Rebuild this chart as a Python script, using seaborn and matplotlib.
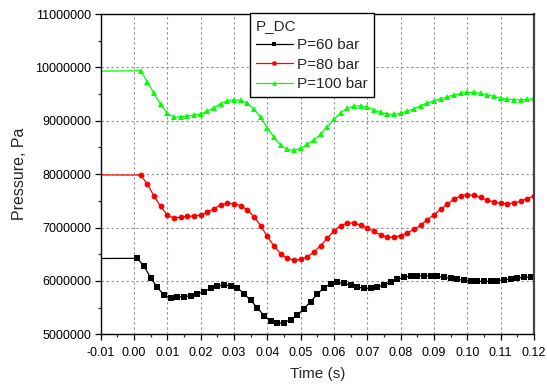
import matplotlib
matplotlib.use("Agg")
import matplotlib.pyplot as plt
from matplotlib.ticker import MultipleLocator, FixedLocator, FixedFormatter
import seaborn as sns
import pandas as pd

# ---------------- data ----------------
t_start = -0.01

t_60 = [0.001, 0.003, 0.005, 0.007, 0.009, 0.011, 0.013, 0.015, 0.017, 0.019,
        0.021, 0.023, 0.025, 0.027, 0.029, 0.031, 0.033, 0.035, 0.037, 0.039,
        0.041, 0.043, 0.045, 0.047, 0.049, 0.051, 0.053, 0.055, 0.057, 0.059,
        0.061, 0.063, 0.065, 0.067, 0.069, 0.071, 0.073, 0.075, 0.077, 0.079,
        0.081, 0.083, 0.085, 0.087, 0.089, 0.091, 0.093, 0.095, 0.097, 0.099,
        0.101, 0.103, 0.105, 0.107, 0.109, 0.111, 0.113, 0.115, 0.117, 0.119]
p_60_initial = 6420000
p_60 = [6423000, 6279000, 6061000, 5880000, 5736000, 5686000, 5698000, 5705000, 5723000, 5755000,
        5798000, 5861000, 5905000, 5923000, 5911000, 5873000, 5761000, 5636000, 5499000, 5349000,
        5249000, 5205000, 5218000, 5274000, 5361000, 5480000, 5611000, 5755000, 5873000, 5945000,
        5973000, 5955000, 5917000, 5886000, 5861000, 5861000, 5886000, 5923000, 5979000, 6029000,
        6067000, 6092000, 6098000, 6098000, 6098000, 6086000, 6067000, 6048000, 6029000, 6011000,
        5992000, 5992000, 5992000, 5992000, 6004000, 6023000, 6036000, 6054000, 6067000, 6073000]

t_80_100 = [0.002, 0.004, 0.006, 0.008, 0.010, 0.012, 0.014, 0.016, 0.018, 0.020,
            0.022, 0.024, 0.026, 0.028, 0.030, 0.032, 0.034, 0.036, 0.038, 0.040,
            0.042, 0.044, 0.046, 0.048, 0.050, 0.052, 0.054, 0.056, 0.058, 0.060,
            0.062, 0.064, 0.066, 0.068, 0.070, 0.072, 0.074, 0.076, 0.078, 0.080,
            0.082, 0.084, 0.086, 0.088, 0.090, 0.092, 0.094, 0.096, 0.098, 0.100,
            0.102, 0.104, 0.106, 0.108, 0.110, 0.112, 0.114, 0.116, 0.118, 0.120]
p_80_initial = 7985000
p_80 = [7983000, 7815000, 7590000, 7396000, 7234000, 7178000, 7197000, 7209000, 7215000, 7234000,
        7284000, 7353000, 7421000, 7453000, 7446000, 7409000, 7334000, 7203000, 7034000, 6835000,
        6654000, 6510000, 6423000, 6385000, 6404000, 6454000, 6541000, 6660000, 6797000, 6941000,
        7034000, 7084000, 7084000, 7047000, 6991000, 6928000, 6860000, 6816000, 6816000, 6847000,
        6897000, 6966000, 7041000, 7150000, 7234000, 7340000, 7440000, 7528000, 7590000, 7615000,
        7602000, 7565000, 7509000, 7478000, 7453000, 7446000, 7459000, 7496000, 7540000, 7590000]

p_100_initial = 9930000
p_100 = [9937000, 9731000, 9513000, 9307000, 9139000, 9064000, 9076000, 9094000, 9107000, 9126000,
         9182000, 9244000, 9319000, 9375000, 9394000, 9382000, 9338000, 9213000, 9064000, 8870000,
         8689000, 8545000, 8464000, 8445000, 8483000, 8558000, 8639000, 8751000, 8888000, 9026000,
         9151000, 9232000, 9275000, 9282000, 9250000, 9201000, 9157000, 9126000, 9119000, 9138000,
         9182000, 9225000, 9282000, 9332000, 9375000, 9413000, 9450000, 9481000, 9513000, 9531000,
         9531000, 9513000, 9488000, 9456000, 9425000, 9406000, 9394000, 9394000, 9400000, 9419000]

series_labels = ["P=60 bar", "P=80 bar", "P=100 bar"]
legend_title = "P_DC"
x_label = "Time (s)"
y_label = "Pressure, Pa"
x_ticks = [-0.01, 0.00, 0.01, 0.02, 0.03, 0.04, 0.05, 0.06, 0.07, 0.08, 0.09, 0.10, 0.11, 0.12]
x_tick_labels = ["-0.01", "0.00", "0.01", "0.02", "0.03", "0.04", "0.05", "0.06",
                 "0.07", "0.08", "0.09", "0.10", "0.11", "0.12"]
y_ticks = [5000000, 6000000, 7000000, 8000000, 9000000, 10000000, 11000000]
y_tick_labels = ["5000000", "6000000", "7000000", "8000000", "9000000", "10000000", "11000000"]

# ---------------- style ----------------
sns.set_style("ticks")
plt.rcParams["font.family"] = ["Liberation Sans", "DejaVu Sans"]

fig = plt.figure(figsize=(5.47, 3.85), dpi=100)
ax = fig.add_axes([0.184, 0.1317, 0.976 - 0.184, 0.9636 - 0.1317])

specs = [
    (t_60, p_60, p_60_initial, "black", "s", series_labels[0]),
    (t_80_100, p_80, p_80_initial, "#ff0000", "o", series_labels[1]),
    (t_80_100, p_100, p_100_initial, "#00ff00", "^", series_labels[2]),
]
for tt, pp, p0, col, mk, lab in specs:
    df = pd.DataFrame({"t": [t_start] + tt, "p": [p0] + pp})
    sns.lineplot(data=df, x="t", y="p", ax=ax, color=col, lw=0.9,
                 marker=mk, markersize=4.2, markeredgewidth=0,
                 markevery=list(range(1, len(df))), label=lab,
                 estimator=None, sort=False)

ax.set_xlim(-0.01, 0.12)
ax.set_ylim(5000000, 11000000)
ax.xaxis.set_major_locator(FixedLocator(x_ticks))
ax.xaxis.set_major_formatter(FixedFormatter(x_tick_labels))
ax.yaxis.set_major_locator(FixedLocator(y_ticks))
ax.yaxis.set_major_formatter(FixedFormatter(y_tick_labels))
ax.xaxis.set_minor_locator(MultipleLocator(0.005))
ax.yaxis.set_minor_locator(MultipleLocator(500000))

ax.tick_params(which="major", direction="out", length=4, width=0.9, labelsize=9,
               colors="black", pad=3)
ax.tick_params(axis="x", which="major", pad=5)
ax.tick_params(which="minor", direction="out", length=2.2, width=0.9)
ax.tick_params(top=False, right=False, which="both")

for s in ax.spines.values():
    s.set_visible(True)
    s.set_color("black")
    s.set_linewidth(1.0)
ax.spines["right"].set_linewidth(1.6)
ax.spines["right"].set_color("#444444")

ax.grid(True, which="major", color="#8c8c8c", linestyle=(0, (2, 2.5)), linewidth=0.8)
ax.set_axisbelow(True)

ax.set_xlabel(x_label, fontsize=11, labelpad=6)
ax.set_ylabel(y_label, fontsize=11.5, labelpad=6)

leg = ax.legend(title=legend_title, loc="upper left", bbox_to_anchor=(0.3446, 1.004),
                borderaxespad=0,
                frameon=True, fancybox=False, framealpha=1, edgecolor="black",
                fontsize=11, title_fontsize=11, alignment="left",
                handlelength=2.4, handletextpad=0.3, borderpad=0.4,
                labelspacing=0.35, markerscale=0.8)
leg.get_frame().set_linewidth(1.0)
leg.set_zorder(10)

fig.savefig("out.png", dpi=100)
